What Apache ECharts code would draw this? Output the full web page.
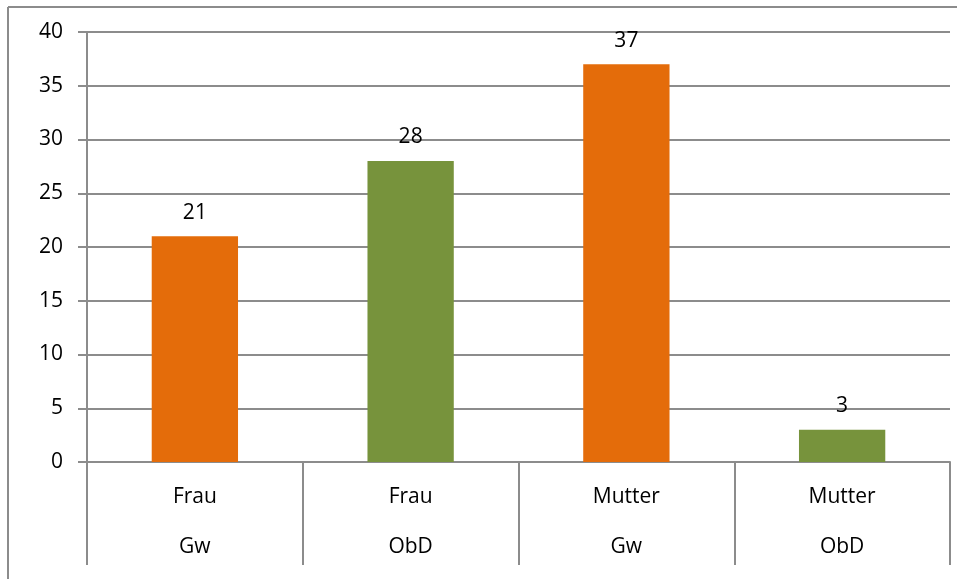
<!DOCTYPE html>
<html>
<head>
<meta charset="utf-8">
<script src="https://cdn.jsdelivr.net/npm/echarts@6/dist/echarts.min.js"></script>
<style>html,body{margin:0;padding:0;background:#fff}#c{width:957px;height:579px}</style>
</head>
<body>
<div id="c"></div>
<script>
var groups = ["Frau", "Frau", "Mutter", "Mutter"];
var subgroups = ["Gw", "ObD", "Gw", "ObD"];
var values = [21, 28, 37, 3];
var yTicks = [0, 5, 10, 15, 20, 25, 30, 35, 40];

var colorBySub = { "Gw": "#E46C0A", "ObD": "#77933C" };
var gray = "#8c8c8c";
var font = "Open Sans";

var chart = echarts.init(document.getElementById('c'));
chart.setOption({
  animation: false,
  textStyle: { fontFamily: font },
  grid: { left: 87, right: 7, top: 32, bottom: 117, containLabel: false },
  graphic: [
    { type: 'line', shape: { x1: 8, y1: 7, x2: 957, y2: 7 }, style: { stroke: gray, lineWidth: 2 } },
    { type: 'line', shape: { x1: 8, y1: 7, x2: 8, y2: 579 }, style: { stroke: gray, lineWidth: 2 } }
  ],
  xAxis: {
    type: 'category',
    data: groups.map(function (g, i) { return g + '\n' + subgroups[i]; }),
    boundaryGap: true,
    axisLine: { show: true, lineStyle: { color: gray, width: 2 } },
    axisTick: { show: true, alignWithLabel: false, length: 103, lineStyle: { color: gray, width: 2 } },
    axisLabel: {
      margin: 10, color: '#000', fontSize: 21, lineHeight: 50, fontFamily: font,
      interval: 0
    },
    splitLine: { show: false }
  },
  yAxis: {
    type: 'value',
    min: yTicks[0], max: yTicks[yTicks.length - 1], interval: 5,
    axisLine: { show: true, lineStyle: { color: gray, width: 2 } },
    axisTick: { show: true, length: 9, lineStyle: { color: gray, width: 2 } },
    axisLabel: { margin: 24, color: '#000', fontSize: 21, fontFamily: font },
    splitLine: { show: true, lineStyle: { color: gray, width: 2 } }
  },
  series: [{
    type: 'bar',
    barWidth: '40%',
    data: values.map(function (v, i) {
      return { value: v, itemStyle: { color: colorBySub[subgroups[i]] } };
    }),
    label: { show: true, position: 'top', distance: 13, color: '#000', fontSize: 21, fontFamily: font }
  }]
});
</script>
</body>
</html>
